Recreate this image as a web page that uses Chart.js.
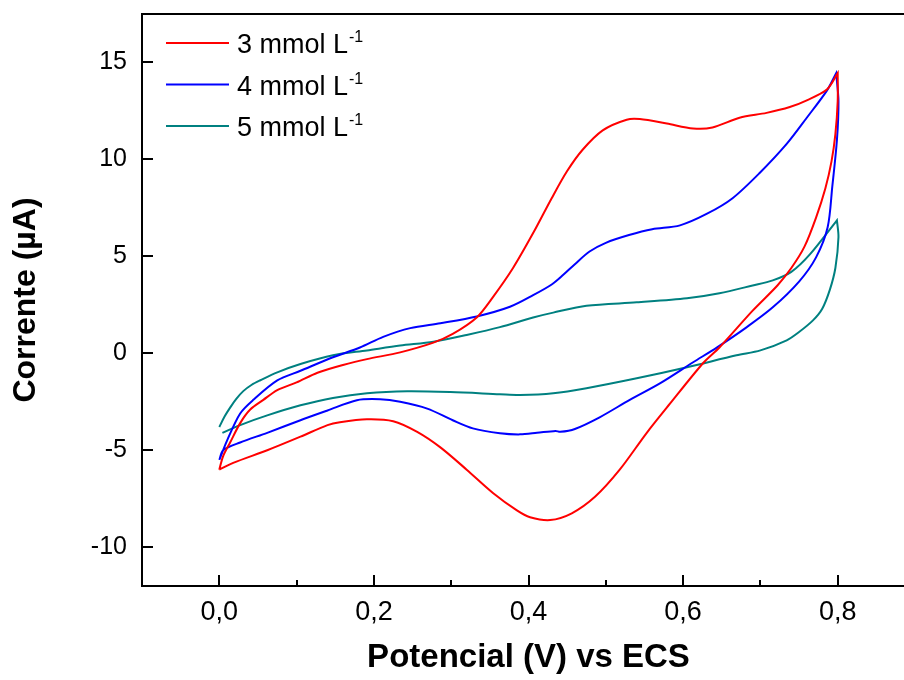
<!DOCTYPE html>
<html>
<head>
<meta charset="utf-8">
<script src="https://cdn.jsdelivr.net/npm/chart.js@4/dist/chart.umd.min.js"></script>
<style>
  html, body { margin: 0; padding: 0; background: #fff; overflow: hidden; }
  #wrap { width: 904px; height: 680px; overflow: hidden; position: relative; }
</style>
</head>
<body>
<div id="wrap"><canvas id="cv" width="930" height="680"></canvas></div>
<script>
// axis ticks
const xTicks = [0, 0.2, 0.4, 0.6, 0.8];
const xTickLabels = ["0,0", "0,2", "0,4", "0,6", "0,8"];
const xMinorTicks = [0.1, 0.3, 0.5, 0.7];
const yTicks = [-10, -5, 0, 5, 10, 15];
const yTickLabels = ["-10", "-5", "0", "5", "10", "15"];

const seriesNames = ["3 mmol L", "4 mmol L", "5 mmol L"];
const unitSup = "-1";
const colors = ["#ff0000", "#0000ff", "#008080"];

// 3 mmol L-1 : forward (anodic) and reverse (cathodic) scans
const potRedFwd = [0.000, 0.005, 0.014, 0.027, 0.040, 0.057, 0.075, 0.100, 0.127, 0.160, 0.191, 0.234, 0.277, 0.302, 0.333, 0.354, 0.380, 0.406, 0.430, 0.450, 0.470, 0.496, 0.527, 0.544, 0.579, 0.613, 0.638, 0.673, 0.708, 0.738, 0.760, 0.786, 0.800];
const curRedFwd = [-6.0, -5.3, -4.6, -3.6, -2.9, -2.4, -1.9, -1.5, -1.0, -0.6, -0.3, 0.05, 0.55, 1.0, 1.85, 2.9, 4.4, 6.2, 8.0, 9.4, 10.5, 11.5, 12.05, 12.08, 11.85, 11.6, 11.65, 12.15, 12.4, 12.7, 13.05, 13.6, 14.45];
const potRedRev = [0.800, 0.800, 0.797, 0.792, 0.784, 0.772, 0.757, 0.740, 0.722, 0.690, 0.647, 0.626, 0.583, 0.553, 0.518, 0.486, 0.456, 0.428, 0.402, 0.385, 0.354, 0.320, 0.286, 0.256, 0.225, 0.191, 0.156, 0.140, 0.105, 0.062, 0.018, 0.000];
const curRedRev = [14.45, 13.0, 11.3, 9.9, 8.5, 7.0, 5.5, 4.4, 3.5, 2.2, 0.3, -0.5, -2.6, -4.1, -6.0, -7.4, -8.25, -8.6, -8.45, -8.1, -7.2, -6.0, -4.85, -4.05, -3.5, -3.4, -3.55, -3.7, -4.3, -5.0, -5.65, -6.0];

// 4 mmol L-1
const potBlueFwd = [0.000, 0.010, 0.027, 0.044, 0.075, 0.105, 0.147, 0.182, 0.212, 0.247, 0.286, 0.333, 0.376, 0.406, 0.430, 0.445, 0.460, 0.479, 0.500, 0.530, 0.560, 0.596, 0.631, 0.664, 0.699, 0.734, 0.760, 0.786, 0.798];
const curBlueFwd = [-5.5, -4.5, -3.1, -2.4, -1.4, -0.9, -0.2, 0.3, 0.85, 1.3, 1.55, 1.9, 2.4, 3.0, 3.55, 4.05, 4.6, 5.25, 5.7, 6.1, 6.4, 6.6, 7.2, 8.0, 9.3, 10.8, 12.15, 13.55, 14.45];
const potBlueRev = [0.798, 0.801, 0.799, 0.793, 0.787, 0.772, 0.750, 0.716, 0.682, 0.644, 0.613, 0.570, 0.531, 0.492, 0.460, 0.441, 0.435, 0.411, 0.389, 0.363, 0.328, 0.302, 0.269, 0.234, 0.208, 0.178, 0.140, 0.105, 0.062, 0.027, 0.005, 0.000];
const curBlueRev = [14.45, 13.0, 11.0, 8.6, 6.5, 4.95, 3.7, 2.37, 1.34, 0.31, -0.46, -1.55, -2.4, -3.3, -3.9, -4.05, -4.0, -4.1, -4.18, -4.12, -3.87, -3.45, -2.85, -2.5, -2.37, -2.42, -2.95, -3.45, -4.1, -4.6, -5.0, -5.5];

// 5 mmol L-1
const potTealFwd = [0.000, 0.007, 0.014, 0.022, 0.031, 0.042, 0.053, 0.075, 0.105, 0.147, 0.191, 0.234, 0.277, 0.320, 0.363, 0.406, 0.432, 0.475, 0.540, 0.605, 0.647, 0.690, 0.716, 0.740, 0.764, 0.799];
const curTealFwd = [-3.8, -3.25, -2.8, -2.35, -1.95, -1.62, -1.39, -0.98, -0.55, -0.1, 0.15, 0.4, 0.6, 0.95, 1.35, 1.85, 2.1, 2.45, 2.63, 2.84, 3.1, 3.5, 3.76, 4.2, 5.1, 6.86];
const potTealRev = [0.799, 0.801, 0.797, 0.790, 0.780, 0.768, 0.750, 0.734, 0.700, 0.669, 0.605, 0.540, 0.475, 0.432, 0.389, 0.363, 0.299, 0.243, 0.191, 0.147, 0.105, 0.062, 0.027, 0.004];
const curTealRev = [6.86, 6.0, 4.4, 3.3, 2.3, 1.7, 1.1, 0.67, 0.15, -0.1, -0.72, -1.29, -1.8, -2.06, -2.15, -2.11, -2.0, -1.96, -2.06, -2.3, -2.68, -3.2, -3.7, -4.1];

function loop(fv, fi, rv, ri) {
  const pts = fv.map((v, i) => ({ x: v, y: fi[i] }));
  return pts.concat(rv.map((v, i) => ({ x: v, y: ri[i] })));
}

const loops = [
  loop(potRedFwd, curRedFwd, potRedRev, curRedRev),
  loop(potBlueFwd, curBlueFwd, potBlueRev, curBlueRev),
  loop(potTealFwd, curTealFwd, potTealRev, curTealRev),
];

const FONT = '"Liberation Sans", Arial, sans-serif';

const frame = {
  id: "frame",
  afterDatasetsDraw(chart) {
    const { ctx, chartArea: a, scales: { x, y } } = chart;
    ctx.save();
    ctx.strokeStyle = "#000";
    ctx.lineWidth = 2;
    ctx.beginPath();
    xTicks.forEach((v) => {
      const px = Math.round(x.getPixelForValue(v));
      ctx.moveTo(px, a.bottom);
      ctx.lineTo(px, a.bottom - 11);
    });
    xMinorTicks.forEach((v) => {
      const px = Math.round(x.getPixelForValue(v));
      ctx.moveTo(px, a.bottom);
      ctx.lineTo(px, a.bottom - 6);
    });
    yTicks.forEach((v) => {
      const py = Math.round(y.getPixelForValue(v));
      ctx.moveTo(a.left, py);
      ctx.lineTo(a.left + 11, py);
    });
    // top edge of the box
    ctx.moveTo(a.left - 1, a.top);
    ctx.lineTo(a.right, a.top);
    ctx.stroke();

    // legend with superscript units
    seriesNames.forEach((name, i) => {
      const ly = a.top + 29 + i * 41.5;
      ctx.strokeStyle = colors[i];
      ctx.lineWidth = 2;
      ctx.beginPath();
      ctx.moveTo(a.left + 24, ly);
      ctx.lineTo(a.left + 87, ly);
      ctx.stroke();
      ctx.fillStyle = "#000";
      ctx.textBaseline = "alphabetic";
      ctx.font = "27px " + FONT;
      ctx.fillText(name, a.left + 95, ly + 10);
      const w = ctx.measureText(name).width;
      ctx.font = "16px " + FONT;
      ctx.fillText(unitSup, a.left + 96 + w, ly - 1);
    });
    ctx.restore();
  },
};

new Chart(document.getElementById("cv"), {
  type: "scatter",
  data: {
    datasets: loops.map((pts, i) => ({
      label: seriesNames[i] + unitSup,
      data: pts,
      showLine: true,
      borderColor: colors[i],
      backgroundColor: colors[i],
      borderWidth: 2,
      pointRadius: 0,
      tension: 0.3,
    })),
  },
  options: {
    responsive: false,
    animation: false,
    layout: { padding: { left: 0, right: 15, top: 14, bottom: 0 } },
    plugins: { legend: { display: false }, tooltip: { enabled: false } },
    scales: {
      x: {
        type: "linear",
        min: -0.1,
        max: 0.9,
        afterBuildTicks: (s) => { s.ticks = xTicks.map((v) => ({ value: v })); },
        afterFit: (s) => { s.height = 94; s.paddingLeft = 0; s.paddingRight = 0; },
        grid: { display: false, drawTicks: false },
        border: { display: true, color: "#000", width: 2 },
        ticks: {
          color: "#000",
          padding: 10,
          maxRotation: 0,
          font: { family: FONT, size: 27 },
          callback: (v) => xTickLabels[xTicks.indexOf(v)],
        },
        title: {
          display: true,
          text: "Potencial (V) vs ECS",
          color: "#000",
          padding: { top: 0, bottom: 6 },
          font: { family: FONT, size: 33, weight: "bold", lineHeight: 1 },
        },
      },
      y: {
        min: -12,
        max: 17.5,
        afterBuildTicks: (s) => { s.ticks = yTicks.map((v) => ({ value: v })); },
        afterFit: (s) => { s.width = 142; s.paddingTop = 0; s.paddingBottom = 0; },
        grid: { display: false, drawTicks: false },
        border: { display: true, color: "#000", width: 2 },
        ticks: {
          color: "#000",
          padding: 15,
          font: { family: FONT, size: 25 },
          callback: (v) => yTickLabels[yTicks.indexOf(v)],
        },
        title: {
          display: true,
          text: "Corrente (µA)",
          color: "#000",
          padding: { top: 10, bottom: 0 },
          font: { family: FONT, size: 32, weight: "bold", lineHeight: 1 },
        },
      },
    },
  },
  plugins: [frame],
});
</script>
</body>
</html>
